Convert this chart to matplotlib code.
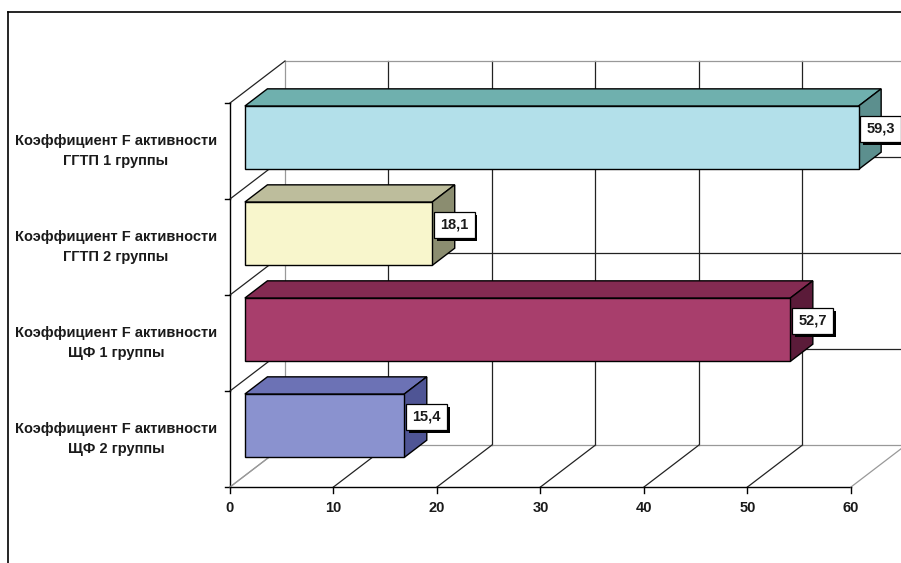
import matplotlib.pyplot as plt
from matplotlib.patches import Polygon
import matplotlib.patheffects as pe

# bars listed bottom to top
categories = ['Коэффициент F активности\nЩФ 2 группы',
              'Коэффициент F активности\nЩФ 1 группы',
              'Коэффициент F активности\nГГТП 2 группы',
              'Коэффициент F активности\nГГТП 1 группы']
values = [15.4, 52.7, 18.1, 59.3]
value_labels = ['15,4', '52,7', '18,1', '59,3']
x_ticks = [0, 10, 20, 30, 40, 50, 60]

front_colors = ['#8a92cf', '#a83e6c', '#f8f6cc', '#b3e0ea']
top_colors = ['#6c72b5', '#842b52', '#bdbd9c', '#6fb0ae']
side_colors = ['#4f5595', '#5b1b39', '#8b8d70', '#5c8f8e']

plt.rcParams['font.family'] = ['Liberation Sans', 'DejaVu Sans']

W, H = 901, 563
fig = plt.figure(figsize=(W / 100, H / 100), dpi=100)
ax = fig.add_axes([0, 0, 1, 1])

# pixel layout of the front corner of the plot
ox, oy = 230, 487
sx = 621 / 60      # px per value unit
sy = 96            # px per category
ax.set_xlim(-ox / sx, (W - ox) / sx)
ax.set_ylim(-(H - oy) / sy, oy / sy)
ax.axis('off')

DX, DY = 55 / sx, 42 / sy   # depth of the 3d box
n = len(categories)
xmax = x_ticks[-1]
dark = '#222222'
grey = '#999999'

# back wall
for t in x_ticks:
    c = grey if t in (0, xmax) else dark
    ax.plot([t + DX, t + DX], [DY, n + DY], color=c, lw=0.9, zorder=1)
for k in range(n + 1):
    c = grey if k in (0, n) else dark
    ax.plot([DX, xmax + DX], [k + DY, k + DY], color=c, lw=0.9, zorder=1)

# left wall
ax.plot([0, 0], [0, n], color='black', lw=1.0, zorder=1)
for k in range(n + 1):
    c = grey if k == 0 else dark
    ax.plot([0, DX], [k, k + DY], color=c, lw=0.9, zorder=1)
    ax.plot([0, -5 / sx], [k, k], color='black', lw=1.0, zorder=1)

# floor
ax.plot([0, xmax], [0, 0], color='black', lw=1.0, zorder=1)
for t in x_ticks:
    c = grey if t in (0, xmax) else dark
    ax.plot([t, t + DX], [0, DY], color=c, lw=0.9, zorder=1)
    ax.plot([t, t], [0, -6 / sy], color='black', lw=1.0, zorder=1)
    ax.text(t, -21 / sy, str(t), ha='center', va='center',
            fontsize=10.5, fontweight='bold', color='#1a1a1a')

# bars
f0, d, h = 0.27, 0.41, 0.33
for i, v in enumerate(values):
    c = i + 0.52
    x0 = f0 * DX
    yb = c - h + f0 * DY
    yt = c + h + f0 * DY
    front = [(x0, yb), (x0 + v, yb), (x0 + v, yt), (x0, yt)]
    top = [(x0, yt), (x0 + v, yt), (x0 + v + d * DX, yt + d * DY),
           (x0 + d * DX, yt + d * DY)]
    side = [(x0 + v, yb), (x0 + v, yt), (x0 + v + d * DX, yt + d * DY),
            (x0 + v + d * DX, yb + d * DY)]
    for pts, col in [(top, top_colors[i]), (side, side_colors[i]),
                     (front, front_colors[i])]:
        ax.add_patch(Polygon(pts, closed=True, facecolor=col,
                             edgecolor='black', lw=1.0, zorder=3))
    txt = ax.text(x0 + v + 8 / sx, i + 0.73, value_labels[i],
                  ha='left', va='center', fontsize=10.5, fontweight='bold',
                  color='#1a1a1a', zorder=5,
                  bbox=dict(boxstyle='square,pad=0.42', facecolor='white',
                            edgecolor='black', lw=0.9))
    txt.get_bbox_patch().set_path_effects(
        [pe.SimplePatchShadow(offset=(2, -2), shadow_rgbFace='black', alpha=1),
         pe.Normal()])
    ax.text(-13 / sx, i + 0.5, categories[i], ha='right', va='center',
            multialignment='center', fontsize=10.5, fontweight='bold',
            linespacing=1.6, color='#1a1a1a')

# outer frame
ax.plot([-222 / sx, -222 / sx], [-(H - oy) / sy, (oy - 12) / sy],
        color='black', lw=1.2, zorder=1)
ax.plot([-222 / sx, (W - ox) / sx], [(oy - 12) / sy, (oy - 12) / sy],
        color='black', lw=1.2, zorder=1)

fig.savefig('out.png', dpi=100)
